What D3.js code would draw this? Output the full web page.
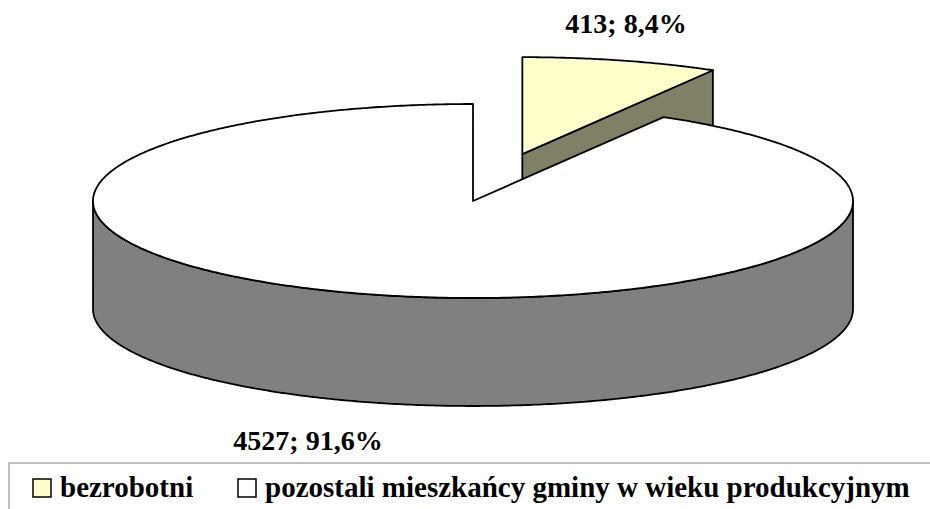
<!DOCTYPE html>
<html>
<head>
<meta charset="utf-8">
<script src="https://cdn.jsdelivr.net/npm/d3@7"></script>
<style>
  body { margin: 0; background: #fff; }
  text { font-family: "Liberation Serif", "Times New Roman", serif; font-weight: bold; }
</style>
</head>
<body>
<script>
var categories = ["bezrobotni", "pozostali mieszkańcy gminy w wieku produkcyjnym"];
var values = [413, 4527];
var topColors = ["#ffffcc", "#ffffff"];
var sideColors = ["#808066", "#808080"];

var width = 930;
var height = 509;

var svg = d3.select("body")
  .append("svg")
  .attr("width", width)
  .attr("height", height);

// geometria "3D" tortu
var cx = 473, cy = 201, rx = 380, ry = 97, depth = 108;
var explode = [0.5, 0];

var pie = d3.pie().sort(null).value(function (d) { return d; });
var arcs = pie(values);
var total = d3.sum(values);

// kat -> punkt na elipsie (0 = godzina 12, zgodnie z ruchem wskazowek)
function pt(a, ox, oy, dz) {
  return [ox + rx * Math.sin(a), oy - ry * Math.cos(a) + (dz || 0)];
}
function arcPoints(a0, a1, ox, oy, dz) {
  var n = Math.max(2, Math.ceil(Math.abs(a1 - a0) / 0.01));
  return d3.range(n + 1).map(function (i) {
    return pt(a0 + (a1 - a0) * i / n, ox, oy, dz);
  });
}
var line = d3.line();

function offset(d, i) {
  var mid = (d.startAngle + d.endAngle) / 2;
  return [cx + explode[i] * rx * Math.sin(mid), cy - explode[i] * ry * Math.cos(mid)];
}

var g = svg.append("g")
  .attr("stroke", "#000")
  .attr("stroke-width", 1.8)
  .attr("stroke-linejoin", "round");

// kolejnosc: najpierw wysuniety kawalek (z tylu), potem reszta
arcs.forEach(function (d, i) {
  var o = offset(d, i);
  var ox = o[0], oy = o[1];

  // sciana boczna przy koncu kawalka
  if (Math.sin(d.endAngle) > 1e-6) {
    var p1 = pt(d.endAngle, ox, oy);
    g.append("path")
      .attr("d", line([[ox, oy], p1, [p1[0], p1[1] + depth], [ox, oy + depth]]) + "Z")
      .attr("fill", sideColors[i]);
  }
  // sciana boczna przy poczatku kawalka
  if (Math.sin(d.startAngle) < -1e-6) {
    var p0 = pt(d.startAngle, ox, oy);
    g.append("path")
      .attr("d", line([[ox, oy], p0, [p0[0], p0[1] + depth], [ox, oy + depth]]) + "Z")
      .attr("fill", sideColors[i]);
  }
  // zewnetrzna sciana (tylko przednia polowa)
  var s = Math.max(d.startAngle, Math.PI / 2);
  var e = Math.min(d.endAngle, 3 * Math.PI / 2);
  if (e > s) {
    var pts = arcPoints(s, e, ox, oy, 0).concat(arcPoints(e, s, ox, oy, depth));
    g.append("path")
      .attr("d", line(pts) + "Z")
      .attr("fill", sideColors[i]);
  }
  // gorna powierzchnia
  var topPts = [[ox, oy]].concat(arcPoints(d.startAngle, d.endAngle, ox, oy, 0));
  g.append("path")
    .attr("d", line(topPts) + "Z")
    .attr("fill", topColors[i]);
});

// etykiety danych
var pctFormat = d3.format(".1%");
var labelPos = [[626, 33], [308, 450]];
svg.selectAll(".label")
  .data(arcs)
  .enter()
  .append("text")
  .attr("class", "label")
  .attr("x", function (d, i) { return labelPos[i][0]; })
  .attr("y", function (d, i) { return labelPos[i][1]; })
  .attr("text-anchor", "middle")
  .attr("font-size", 28)
  .text(function (d) {
    return d.data + "; " + pctFormat(d.data / total).replace(".", ",");
  });

// legenda
svg.append("rect")
  .attr("x", 9)
  .attr("y", 463)
  .attr("width", 960)
  .attr("height", 80)
  .attr("fill", "#fff")
  .attr("stroke", "#c0c0c0")
  .attr("stroke-width", 2);

var legendX = [33, 238];
var legend = svg.selectAll(".legend")
  .data(categories)
  .enter()
  .append("g")
  .attr("class", "legend")
  .attr("transform", function (d, i) { return "translate(" + legendX[i] + ",479)"; });

legend.append("rect")
  .attr("width", 18)
  .attr("height", 18)
  .attr("fill", function (d, i) { return topColors[i]; })
  .attr("stroke", "#000")
  .attr("stroke-width", 1.5);

legend.append("text")
  .attr("x", 27)
  .attr("y", 18)
  .attr("font-size", 29)
  .text(function (d) { return d; });
</script>
</body>
</html>
